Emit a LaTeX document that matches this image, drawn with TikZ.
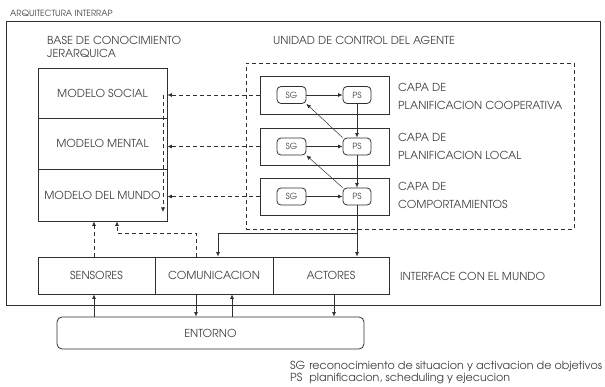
\documentclass[tikz,border=0pt]{standalone}
\usepackage{fontspec}
\setmainfont{TeX Gyre Adventor}
\usetikzlibrary{arrows.meta,calc}
\definecolor{ink}{HTML}{303030}
\definecolor{txt}{HTML}{404040}
\begin{document}
\begin{tikzpicture}[x=1pt,y=-1pt,
  box/.style={draw=ink,line width=0.8pt,inner sep=0pt,text=txt,font=\fontsize{11}{13}\selectfont},
  small/.style={box,rounded corners=4pt,minimum width=29pt,minimum height=17pt,font=\fontsize{8.5}{10}\selectfont},
  lbl/.style={inner sep=0pt,text=txt,anchor=west,align=left,font=\fontsize{11}{13}\selectfont},
  arr/.style={draw=ink,line width=0.7pt,-{Latex[length=4.5pt,width=4pt]}},
  darr/.style={arr,dash pattern=on 4pt off 3pt},
  dbox/.style={draw=ink,line width=0.8pt,dash pattern=on 4pt off 3pt,inner sep=0pt}]
\useasboundingbox (0,0) rectangle (605,387);

% titles
\node[lbl,font=\fontsize{8.5}{10}\selectfont] (title) at (10,13) {ARQUITECTURA INTERRAP};
\node[box,minimum width=594pt,minimum height=284pt] (outer) at (303,163) {};
\node[lbl] (kbt) at (47,46.5) {BASE DE CONOCIMIENTO\\JERARQUICA};
\node[lbl] (uct) at (273,40) {UNIDAD DE CONTROL DEL AGENTE};

% knowledge base
\node[box,minimum width=129pt,minimum height=50pt] (social) at (102.5,93) {MODELO SOCIAL};
\node[box,minimum width=129pt,minimum height=51pt] (mental) at (102.5,143.5) {MODELO MENTAL};
\node[box,minimum width=129pt,minimum height=52pt] (mundo) at (102.5,195) {MODELO DEL MUNDO};

% control unit
\node[dbox,minimum width=328pt,minimum height=166pt] (cu) at (410,146) {};
\node[box,minimum width=129pt,minimum height=38pt] (L1) at (324.5,95) {};
\node[box,minimum width=129pt,minimum height=37pt] (L2) at (324.5,146.5) {};
\node[box,minimum width=129pt,minimum height=37pt] (L3) at (324.5,196.5) {};
\node[small] (sg1) at (291.5,95) {SG};
\node[small] (sg2) at (291.5,146.5) {SG};
\node[small] (sg3) at (291.5,196.5) {SG};
\node[small,minimum width=28pt] (ps1) at (357,95) {PS};
\node[small,minimum width=28pt] (ps2) at (357,146.5) {PS};
\node[small,minimum width=28pt] (ps3) at (357,196.5) {PS};
\node[lbl,font=\fontsize{11}{18}\selectfont] (c1) at (398,96) {CAPA DE\\PLANIFICACION COOPERATIVA};
\node[lbl,font=\fontsize{11}{18}\selectfont] (c2) at (398,146.5) {CAPA DE\\PLANIFICACION LOCAL};
\node[lbl,font=\fontsize{11}{18}\selectfont] (c3) at (398,195.5) {CAPA DE\\COMPORTAMIENTOS};

% interface
\node[box,minimum width=117pt,minimum height=37pt] (sens) at (96.5,275.5) {SENSORES};
\node[box,minimum width=118pt,minimum height=37pt] (com) at (214,275.5) {COMUNICACION};
\node[box,minimum width=116pt,minimum height=37pt] (act) at (331,275.5) {ACTORES};
\node[lbl] (ifc) at (400,276) {INTERFACE CON EL MUNDO};
\node[box,rounded corners=5pt,minimum width=307pt,minimum height=32pt] (ent) at (210.5,333) {ENTORNO};

% legend
\node[lbl,anchor=north west,font=\fontsize{11.1}{12}\selectfont] (leg) at (290,361)
  {\begin{tabular}{@{}l@{\hspace{4pt}}l@{}}SG & reconocimiento de situacion y activacion de objetivos\\
   PS & planificacion, scheduling y ejecucion\end{tabular}};

% coordinates
\coordinate (xa) at (94,0);
\coordinate (d1) at (196,233);
\coordinate (d2) at (117,233);
\coordinate (v1) at (163,95);
\coordinate (v2) at (163,212);
\coordinate (b2) at (218,233);
\coordinate (e2) at (232,0);
\coordinate (e3) at (334,0);

% dashed connectors
\draw[darr] (sens.north -| xa) -- (mundo.south -| xa);
\draw[darr] (com.north -| d1) -- (d1) -- (d2) -- (mundo.south -| d2);
\draw[darr] (L1.west) -- (social.east |- L1.west);
\draw[darr] (L2.west) -- (mental.east |- L2.west);
\draw[darr] (L3.west) -- (mundo.east |- L3.west);
\draw[darr] (v1) -- (v2);

% control connectors
\draw[arr] (sg1) -- (ps1);
\draw[arr] (sg2) -- (ps2);
\draw[arr] (sg3) -- (ps3);
\draw[arr] (ps1) -- (ps2);
\draw[arr] (ps2) -- (ps3);
\draw[arr,line width=0.5pt] (ps2.north west) -- (sg1.south east);
\draw[arr,line width=0.5pt] (ps3.north west) -- (sg2.south east);
\draw[arr] (ps3.south) -- (act.north -| ps3.south);
\draw[arr] (ps3.south |- b2) -- (b2) -- (com.north -| b2);

% environment connectors
\draw[arr] (ent.north -| xa) -- (sens.south -| xa);
\draw[arr] (com.south -| d1) -- (ent.north -| d1);
\draw[arr] (ent.north -| e2) -- (com.south -| e2);
\draw[arr] (act.south -| e3) -- (ent.north -| e3);
\end{tikzpicture}
\end{document}
